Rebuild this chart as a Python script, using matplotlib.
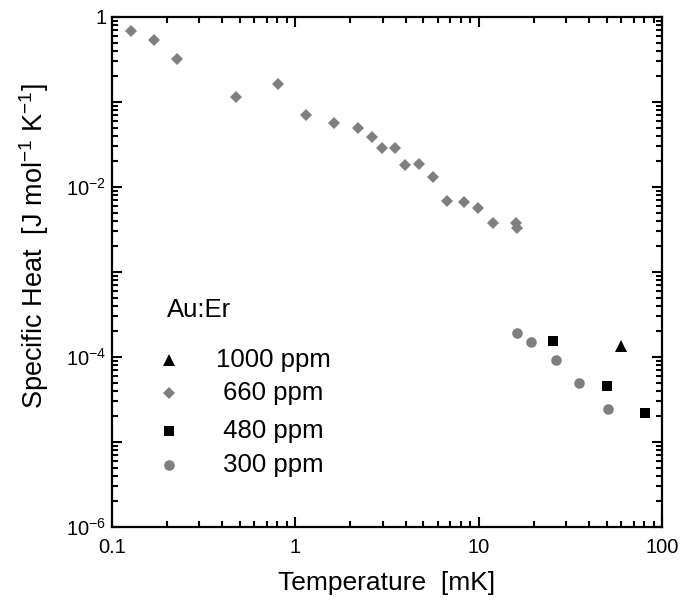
import math
import matplotlib
matplotlib.use("Agg")
import matplotlib.pyplot as plt
from matplotlib.ticker import LogLocator, FixedLocator, NullFormatter, FuncFormatter

plt.rcParams["font.family"] = ["Liberation Sans", "DejaVu Sans"]
plt.rcParams["mathtext.fontset"] = "custom"
plt.rcParams["mathtext.rm"] = "Liberation Sans"

# Au:Er specific heat, temperature in mK, C in J/(mol K)
t_660 = [0.128, 0.169, 0.226, 0.476, 0.81, 1.14, 1.62, 2.19, 2.64, 2.99,
         3.51, 3.99, 4.72, 5.62, 6.73, 8.30, 9.97, 12.05, 15.96, 16.15]
c_660 = [0.690, 0.536, 0.318, 0.1136, 0.163, 0.0709, 0.0566, 0.0494, 0.0384, 0.0288,
         0.0288, 0.0179, 0.0188, 0.0132, 0.00679, 0.00661, 0.00566, 0.00374, 0.00380, 0.00327]

t_300 = [16.3, 19.4, 26.4, 35.5, 51.1]
c_300 = [1.91e-4, 1.51e-4, 9.1e-5, 4.94e-5, 2.47e-5]

t_480 = [25.4, 50.0, 81.1]
c_480 = [1.56e-4, 4.59e-5, 2.19e-5]

t_1000 = [60.1]
c_1000 = [1.36e-4]

legend_title = "Au:Er"
legend_labels = ["1000 ppm", " 660 ppm", " 480 ppm", " 300 ppm"]

grey = "#7f7f7f"

fig = plt.figure(figsize=(6.8, 6.02), dpi=100)
ax = fig.add_axes([0.1643, 0.1246, 0.8092, 0.8472])

ax.plot(t_1000, c_1000, ls="none", marker="^", ms=8.5, color="black", mew=0)
ax.plot(t_660, c_660, ls="none", marker="D", ms=6.0, color=grey, mew=0)
ax.plot(t_480, c_480, ls="none", marker="s", ms=6.8, color="black", mew=0)
ax.plot(t_300, c_300, ls="none", marker="o", ms=7.6, color=grey, mew=0)

ax.set_xscale("log")
ax.set_yscale("log")
ax.set_xlim(0.1, 100)
ax.set_ylim(1e-6, 1)

ax.xaxis.set_major_locator(FixedLocator([0.1, 1, 10, 100]))
ax.xaxis.set_minor_locator(LogLocator(base=10, subs=range(2, 10), numticks=20))
ax.xaxis.set_major_formatter(FuncFormatter(lambda v, p: {0.1: "0.1", 1: "1", 10: "10", 100: "100"}.get(round(v, 3), "")))
ax.xaxis.set_minor_formatter(NullFormatter())

ax.yaxis.set_major_locator(FixedLocator([1e-6, 1e-5, 1e-4, 1e-3, 1e-2, 1e-1, 1]))
ax.yaxis.set_minor_locator(LogLocator(base=10, subs=range(2, 10), numticks=20))


def ylab(v, pos):
    # only every second decade carries a label
    labels = {0: "1", -2: r"$\mathregular{10^{-2}}$", -4: r"$\mathregular{10^{-4}}$",
              -6: r"$\mathregular{10^{-6}}$"}
    return labels.get(int(round(math.log10(v))), "")


ax.yaxis.set_major_formatter(FuncFormatter(ylab))
ax.yaxis.set_minor_formatter(NullFormatter())

ax.tick_params(which="both", direction="in", top=True, right=True, width=1.5, labelsize=14.5)
ax.tick_params(which="major", length=7.5)
ax.tick_params(axis="x", which="major", pad=8)
ax.tick_params(axis="y", which="major", pad=4)
ax.tick_params(which="minor", length=4.5)
for s in ax.spines.values():
    s.set_linewidth(1.6)

ax.set_xlabel("Temperature  [mK]", fontsize=19, labelpad=10)
ax.set_ylabel(r"Specific Heat  [J mol$^{\mathregular{-1}}$ K$^{\mathregular{-1}}$]", fontsize=19.5)
ax.yaxis.set_label_coords(-0.11, 0.55)

# legend drawn by hand in axes coordinates
tr = ax.transAxes
ax.text(0.1, 0.425, legend_title, transform=tr, fontsize=18.5, va="center", ha="left")
rows_y = [0.327, 0.262, 0.188, 0.122]
styles = [("^", 8.5, "black"), ("D", 6.0, grey), ("s", 6.8, "black"), ("o", 7.6, grey)]
for y, (m, ms, col), lab in zip(rows_y, styles, legend_labels):
    ax.plot([0.104], [y], transform=tr, marker=m, ms=ms, color=col, mew=0, clip_on=False)
    ax.text(0.19, y, lab, transform=tr, fontsize=18.5, va="center", ha="left")

fig.savefig("out.png", dpi=100)
